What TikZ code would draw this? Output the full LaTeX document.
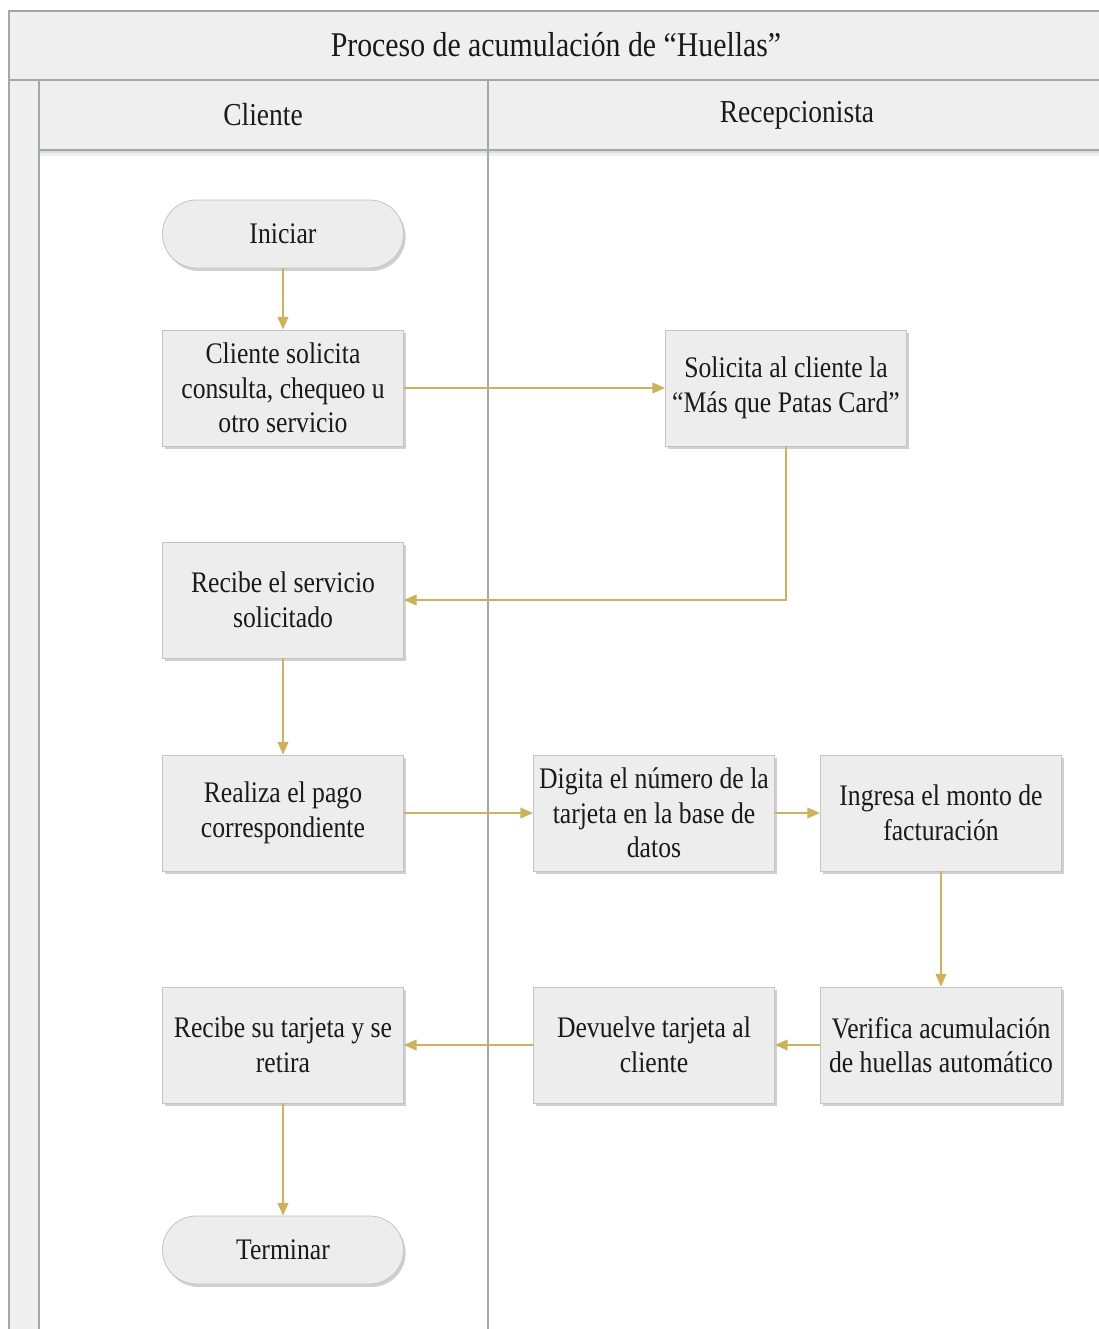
\documentclass[tikz,border=0pt]{standalone}
\usepackage{fontspec}
\setmainfont{Liberation Serif}[FakeStretch=0.86]
\usetikzlibrary{arrows.meta,shadows}
\definecolor{boxfill}{HTML}{EDEDED}
\definecolor{hdrfill}{HTML}{EFEFEF}
\definecolor{laneline}{HTML}{A3A7A7}
\definecolor{boxline}{HTML}{C4C4C4}
\definecolor{flow}{HTML}{CDB25E}
\definecolor{txt}{HTML}{1A1A1A}
\tikzset{
  procbox/.style={draw=boxline, fill=boxfill, line width=0.6pt,
    minimum width=180.75pt, minimum height=87pt, inner sep=2pt,
    align=center, text=txt, font=\fontsize{22.4}{25.9}\selectfont,
    drop shadow={shadow xshift=1.6pt, shadow yshift=-2.2pt, opacity=0.3, fill=black!60}},
  termbox/.style={procbox, minimum height=51pt, rounded corners=25.4pt},
  flowline/.style={draw=flow, line width=1.3pt, -{Triangle[length=9.5pt,width=8pt]}},
  lane/.style={draw=laneline, line width=1pt},
  hdrtext/.style={text=txt, inner sep=0pt},
}
\begin{document}
\begin{tikzpicture}[x=0.75pt,y=-0.75pt]
\useasboundingbox (0,0) rectangle (1099,1329);
\fill[white] (0,0) rectangle (1099,1329);
% frame fills
\fill[hdrfill] (9,11) rectangle (1099,80);
\fill[hdrfill] (9,80) rectangle (39,1329);
\fill[hdrfill] (39,80) rectangle (1099,150);
% shadow below lane header
\fill[black!14] (39,150) rectangle (1099,153);
\fill[black!6] (39,153) rectangle (1099,156);
% frame lines
\draw[lane] (1099,11) -- (9,11) -- (9,1329);
\draw[lane] (9,80) -- (1099,80);
\draw[lane] (39,80) -- (39,1329);
\draw[lane] (39,150) -- (1099,150);
\draw[lane] (488,80) -- (488,1329);
% header texts
\node[hdrtext, font=\fontsize{26}{30}\selectfont] (title) at (556,45) {Proceso de acumulación de “Huellas”};
\node[hdrtext, font=\fontsize{24}{28}\selectfont] (lcli) at (263,115) {Cliente};
\node[hdrtext, font=\fontsize{24}{28}\selectfont] (lrec) at (797,115) {Recepcionista};
% nodes
\node[termbox] (ini) at (283,234) {Iniciar};
\node[procbox] (sol) at (283,388) {Cliente solicita\\consulta, chequeo u\\otro servicio};
\node[procbox] (sac) at (786,388) {Solicita al cliente la\\“Más que Patas Card”};
\node[procbox] (rec) at (283,600) {Recibe el servicio\\solicitado};
\node[procbox] (pago) at (283,813) {Realiza el pago\\correspondiente};
\node[procbox] (dig) at (654,813) {Digita el número de la\\tarjeta en la base de\\datos};
\node[procbox] (ing) at (941,813) {Ingresa el monto de\\facturación};
\node[procbox] (ver) at (941,1045) {Verifica acumulación\\de huellas automático};
\node[procbox] (dev) at (654,1045) {Devuelve tarjeta al\\cliente};
\node[procbox] (tarj) at (283,1045) {Recibe su tarjeta y se\\retira};
\node[termbox] (term) at (283,1250) {Terminar};
% connectors
\draw[flowline] (ini) -- (sol);
\draw[flowline] (sol) -- (sac);
\draw[flowline] (sac.south) |- (rec.east);
\draw[flowline] (rec) -- (pago);
\draw[flowline] (pago) -- (dig);
\draw[flowline] (dig) -- (ing);
\draw[flowline] (ing) -- (ver);
\draw[flowline] (ver) -- (dev);
\draw[flowline] (dev) -- (tarj);
\draw[flowline] (tarj) -- (term);
\end{tikzpicture}
\end{document}
